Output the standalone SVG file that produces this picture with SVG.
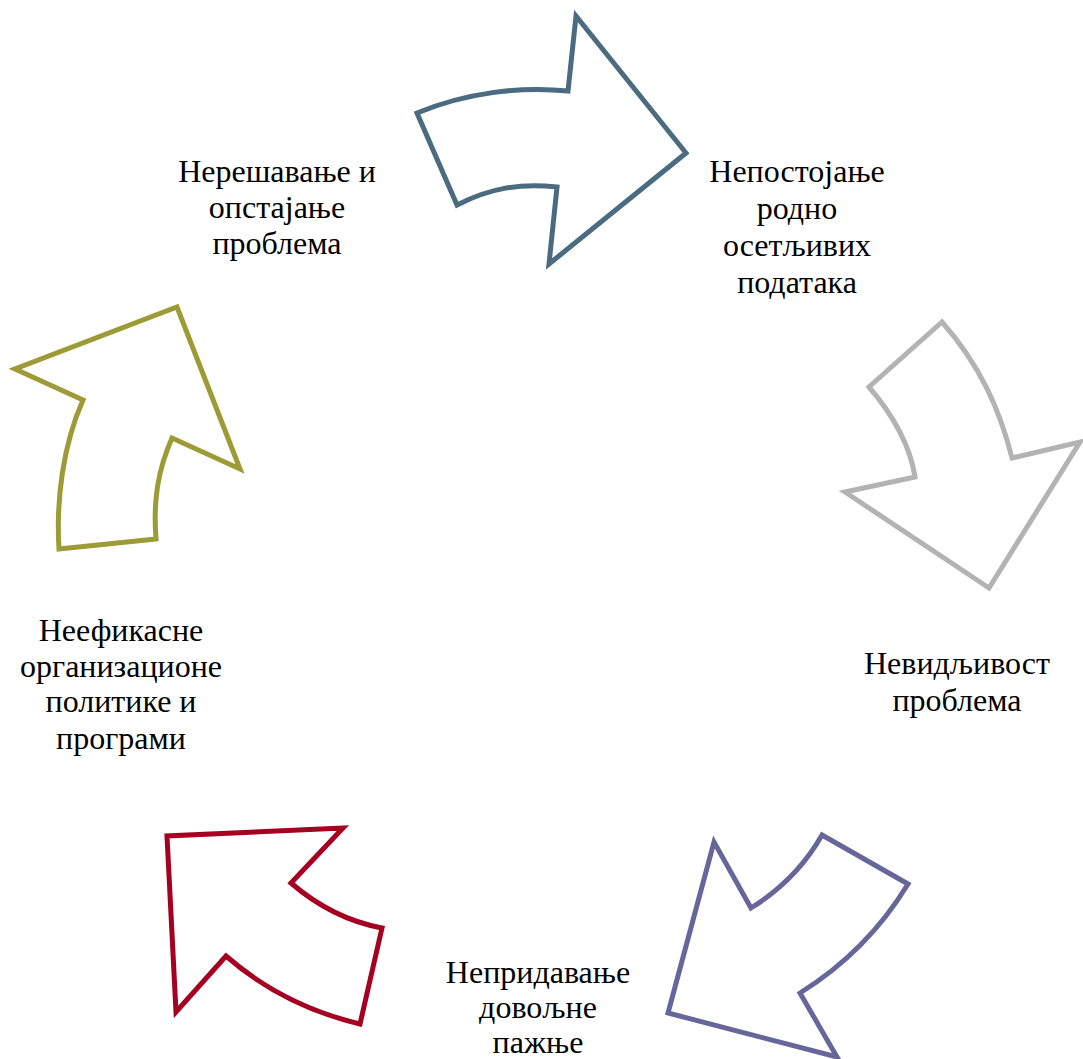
<svg xmlns="http://www.w3.org/2000/svg" width="1083" height="1059" viewBox="0 0 1083 1059">
<style>
.arrow{fill:#ffffff;stroke-width:5;stroke-linejoin:miter;stroke-miterlimit:10}
.lbl{font-family:'Liberation Serif','DejaVu Serif',serif;font-size:32px;fill:#000000;text-anchor:middle}
</style>
<rect width="1083" height="1059" fill="#ffffff"/>
<g id="connectors">
<path id="arrow1" class="arrow" stroke="#4B6B80" d="M417,113 C465,93 520,86 568,91 L576,16 L686,153 L549,264 L557,187 C520,183 490,188 457,205 Z"/>
<path id="arrow2" class="arrow" stroke="#B3B3B3" d="M942,322 C980,365 1000,410 1012,458 L1080,442 L989,588 L845,492 L915,477 C910,445 893,415 869,387 Z"/>
<path id="arrow3" class="arrow" stroke="#67669B" d="M908,884 C880,930 845,965 800,993 L837,1057 L668,1013 L714,842 L751,908 C780,890 805,865 822,835 Z"/>
<path id="arrow4" class="arrow" stroke="#A50021" d="M360,1024 C310,1012 265,990 226,956 L176,1012 L167,836 L343,828 L291,883 C320,908 350,922 382,928 Z"/>
<path id="arrow5" class="arrow" stroke="#9C9B36" d="M59,549 C56,500 63,445 83,400 L15,369 L177,307 L240,469 L172,438 C158,470 153,500 156,539 Z"/>
</g>
<g id="node1"><text class="lbl" x="277" y="182">Нерешавање и</text><text class="lbl" x="277" y="218">опстајање</text><text class="lbl" x="277" y="254">проблема</text></g>
<g id="node2"><text class="lbl" x="797" y="182">Непостојање</text><text class="lbl" x="797" y="219">родно</text><text class="lbl" x="797" y="256">осетљивих</text><text class="lbl" x="797" y="293">података</text></g>
<g id="node3"><text class="lbl" x="957" y="674">Невидљивост</text><text class="lbl" x="957" y="711">проблема</text></g>
<g id="node4"><text class="lbl" x="538" y="983">Непридавање</text><text class="lbl" x="538" y="1018">довољне</text><text class="lbl" x="538" y="1053">пажње</text></g>
<g id="node5"><text class="lbl" x="121" y="641">Неефикасне</text><text class="lbl" x="121" y="677">организационе</text><text class="lbl" x="121" y="712">политике и</text><text class="lbl" x="121" y="749">програми</text></g>
</svg>
